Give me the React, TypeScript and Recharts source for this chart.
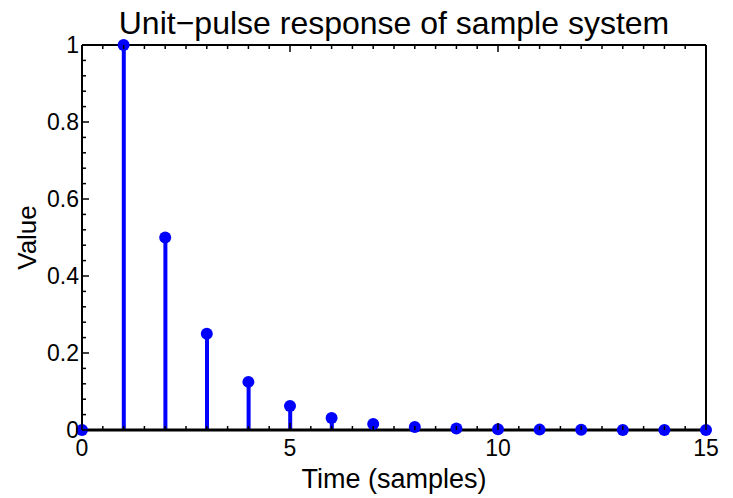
import React from 'react';
import {
  ComposedChart,
  Bar,
  Scatter,
  XAxis,
  YAxis,
  ReferenceLine
} from 'recharts';

// unit-pulse response, one value per sample
const samples = [0, 1, 2, 3, 4, 5, 6, 7, 8, 9, 10, 11, 12, 13, 14, 15];
const values = [
  0, 1, 0.5, 0.25, 0.125, 0.0625, 0.03125, 0.015625, 0.0078125,
  0.0039, 0.00195, 0.00098, 0.00049, 0.00024, 0.00012, 0.00006
];

const xTicks = Array.from({ length: 31 }, (_, i) => i * 0.5);
const yTicks = Array.from({ length: 26 }, (_, i) => Math.round(i * 4) / 100);

const data = samples.map((t, i) => ({ t, v: values[i] }));

const FONT = '"Liberation Sans", Arial, Helvetica, sans-serif';
const BLUE = '#0000ff';

const isMajorX = (v: number) => v % 5 === 0;
const isMajorY = (v: number) => Math.abs(v * 5 - Math.round(v * 5)) < 1e-6;

function BottomTick(props: any) {
  const { x, y, payload } = props;
  const major = isMajorX(payload.value);
  return (
    <g>
      <line x1={x} x2={x} y1={y} y2={y - (major ? 7 : 4)} stroke="#000" strokeWidth={1.5} />
      {major && (
        <text x={x} y={y + 26} textAnchor="middle" fontSize={23} fontFamily={FONT} fill="#000">
          {payload.value}
        </text>
      )}
    </g>
  );
}

function TopTick(props: any) {
  const { x, y, payload } = props;
  const major = isMajorX(payload.value);
  return <line x1={x} x2={x} y1={y} y2={y + (major ? 7 : 4)} stroke="#000" strokeWidth={1.5} />;
}

function LeftTick(props: any) {
  const { x, y, payload } = props;
  const major = isMajorY(payload.value);
  return (
    <g>
      <line x1={x} x2={x + (major ? 7 : 4)} y1={y} y2={y} stroke="#000" strokeWidth={1.5} />
      {major && (
        <text x={x - 3} y={y + 8} textAnchor="end" fontSize={23} fontFamily={FONT} fill="#000">
          {Math.round(payload.value * 10) / 10}
        </text>
      )}
    </g>
  );
}

function RightTick(props: any) {
  const { x, y, payload } = props;
  const major = isMajorY(payload.value);
  return <line x1={x} x2={x - (major ? 7 : 4)} y1={y} y2={y} stroke="#000" strokeWidth={1.5} />;
}

function StemPlot() {
  return (
    <div style={{ position: 'absolute', left: 0, top: 0, width: 733, height: 498, background: '#fff' }}>
      <div
        style={{
          position: 'absolute',
          left: 60,
          width: 668,
          top: 7,
          textAlign: 'center',
          fontFamily: FONT,
          fontSize: 32,
          lineHeight: '32px',
          color: '#000'
        }}
      >
        Unit−pulse response of sample system
      </div>
      <ComposedChart
        width={733}
        height={498}
        data={data}
        margin={{ top: 44, right: 26, bottom: 8, left: 22 }}
      >
        <XAxis
          xAxisId="bottom"
          dataKey="t"
          type="number"
          domain={[0, 15]}
          ticks={xTicks}
          interval={0}
          tickSize={0}
          tickMargin={0}
          tick={<BottomTick />}
          axisLine={{ stroke: '#000', strokeWidth: 2 }}
          height={60}
          label={{
            value: 'Time (samples)',
            position: 'insideBottom',
            offset: 2,
            style: { fontSize: 27, fontFamily: FONT, fill: '#000' }
          }}
        />
        <XAxis
          xAxisId="top"
          orientation="top"
          dataKey="t"
          type="number"
          domain={[0, 15]}
          ticks={xTicks}
          interval={0}
          tickSize={0}
          tickMargin={0}
          tick={<TopTick />}
          axisLine={{ stroke: '#000', strokeWidth: 2 }}
          height={1}
        />
        <YAxis
          yAxisId="left"
          type="number"
          domain={[0, 1]}
          ticks={yTicks}
          interval={0}
          tickSize={0}
          tickMargin={0}
          tick={<LeftTick />}
          axisLine={{ stroke: '#000', strokeWidth: 2 }}
          width={60}
          label={{
            value: 'Value',
            angle: -90,
            position: 'insideLeft',
            offset: 5,
            style: { fontSize: 26, fontFamily: FONT, fill: '#000', textAnchor: 'middle' }
          }}
        />
        <YAxis
          yAxisId="right"
          orientation="right"
          type="number"
          domain={[0, 1]}
          ticks={yTicks}
          interval={0}
          tickSize={0}
          tickMargin={0}
          tick={<RightTick />}
          axisLine={{ stroke: '#000', strokeWidth: 2 }}
          width={1}
        />
        <ReferenceLine xAxisId="bottom" yAxisId="left" y={0} stroke="#000" strokeWidth={3} />
        <Bar
          xAxisId="bottom"
          yAxisId="left"
          dataKey="v"
          barSize={4}
          fill={BLUE}
          isAnimationActive={false}
        />
        <Scatter
          xAxisId="bottom"
          yAxisId="left"
          dataKey="v"
          fill={BLUE}
          isAnimationActive={false}
          shape={(p: any) => <circle cx={p.cx} cy={p.cy} r={6} fill={BLUE} />}
        />
      </ComposedChart>
    </div>
  );
}

export default function App() {
  return <StemPlot />;
}
